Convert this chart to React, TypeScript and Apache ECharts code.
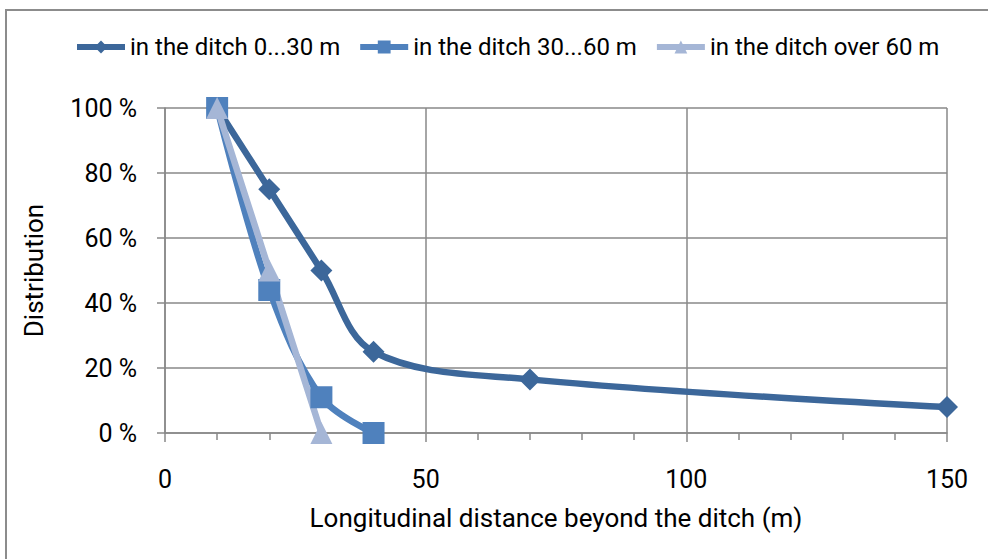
import React, { useEffect, useRef } from "react";
import * as echarts from "echarts";

const seriesNames = ["in the ditch 0...30 m", "in the ditch 30...60 m", "in the ditch over 60 m"];
const s1x = [10, 20, 30, 40, 70, 150];
const s1y = [100, 75, 50, 25, 16.5, 8];
const s2x = [10, 20, 30, 40];
const s2y = [100, 44, 11, 0];
const s3x = [10, 20, 30];
const s3y = [100, 50, 0];
const colors = ["#3C679A", "#4F81BD", "#A5B6D6"];
const xAxisTitle = "Longitudinal distance beyond the ditch (m)";
const yAxisTitle = "Distribution";

const FONT = "Roboto, 'Noto Sans', sans-serif";

export default function App() {
  const ref = useRef<HTMLDivElement>(null);
  useEffect(() => {
    if (!ref.current) return;
    const chart = echarts.init(ref.current, null, { renderer: "svg" });
    const pair = (xs: number[], ys: number[]) => xs.map((x, i) => [x, ys[i]]);
    const gridColor = "#898989";
    chart.setOption({
      animation: false,
      backgroundColor: "#fff",
      textStyle: { fontFamily: FONT },
      graphic: [
        {
          type: "rect",
          shape: { x: 6, y: 10, width: 1000, height: 600 },
          style: { fill: "none", stroke: "#8c8c8c", lineWidth: 2 },
          z: -1,
        },
      ],
      legend: {
        top: 30,
        left: 69,
        itemWidth: 48,
        itemHeight: 16,
        itemGap: 17,
        lineStyle: { width: 6 },
        textStyle: { fontSize: 24, fontFamily: FONT, color: "#000" },
        data: seriesNames,
      },
      grid: { left: 165, right: 41, top: 108, bottom: 126 },
      xAxis: {
        type: "value",
        min: 0,
        max: 150,
        interval: 50,
        name: xAxisTitle,
        nameLocation: "middle",
        nameGap: 72,
        nameTextStyle: { fontSize: 26, color: "#000", fontFamily: FONT },
        axisLine: { lineStyle: { color: gridColor, width: 1.5 } },
        axisTick: { show: true, length: 9, lineStyle: { color: gridColor, width: 1.5 } },
        minorTick: { show: true, splitNumber: 5, length: 7, lineStyle: { color: gridColor, width: 1.5 } },
        axisLabel: { fontSize: 25, color: "#000", margin: 34, fontFamily: FONT },
        splitLine: { show: true, lineStyle: { color: gridColor, width: 1.5 } },
      },
      yAxis: {
        type: "value",
        min: 0,
        max: 100,
        interval: 20,
        name: yAxisTitle,
        nameLocation: "middle",
        nameGap: 118,
        nameRotate: 90,
        nameTextStyle: { fontSize: 26, color: "#000", fontFamily: FONT },
        axisLine: { show: true, lineStyle: { color: gridColor, width: 1.5 } },
        axisTick: { show: true, length: 8, lineStyle: { color: gridColor, width: 1.5 } },
        axisLabel: { fontSize: 25, color: "#000", margin: 28, fontFamily: FONT, formatter: (v: number) => v + " %" },
        splitLine: { show: true, lineStyle: { color: gridColor, width: 1.5 } },
      },
      series: [
        {
          name: seriesNames[0],
          type: "line",
          data: pair(s1x, s1y),
          smooth: 0.35,
          symbol: "diamond",
          symbolSize: 22,
          lineStyle: { width: 6.5, color: colors[0] },
          itemStyle: { color: colors[0] },
        },
        {
          name: seriesNames[1],
          type: "line",
          data: pair(s2x, s2y),
          smooth: 0.35,
          symbol: "rect",
          symbolSize: 22,
          lineStyle: { width: 6.5, color: colors[1] },
          itemStyle: { color: colors[1] },
        },
        {
          name: seriesNames[2],
          type: "line",
          data: pair(s3x, s3y),
          smooth: 0.2,
          symbol: "triangle",
          symbolSize: 22,
          lineStyle: { width: 6.5, color: colors[2] },
          itemStyle: { color: colors[2] },
        },
      ],
    });
    return () => chart.dispose();
  }, []);
  return (
    <div style={{ position: "fixed", left: 0, top: 0, width: 988, height: 559, background: "#fff" }}>
      <div ref={ref} style={{ width: 988, height: 559 }} />
    </div>
  );
}
